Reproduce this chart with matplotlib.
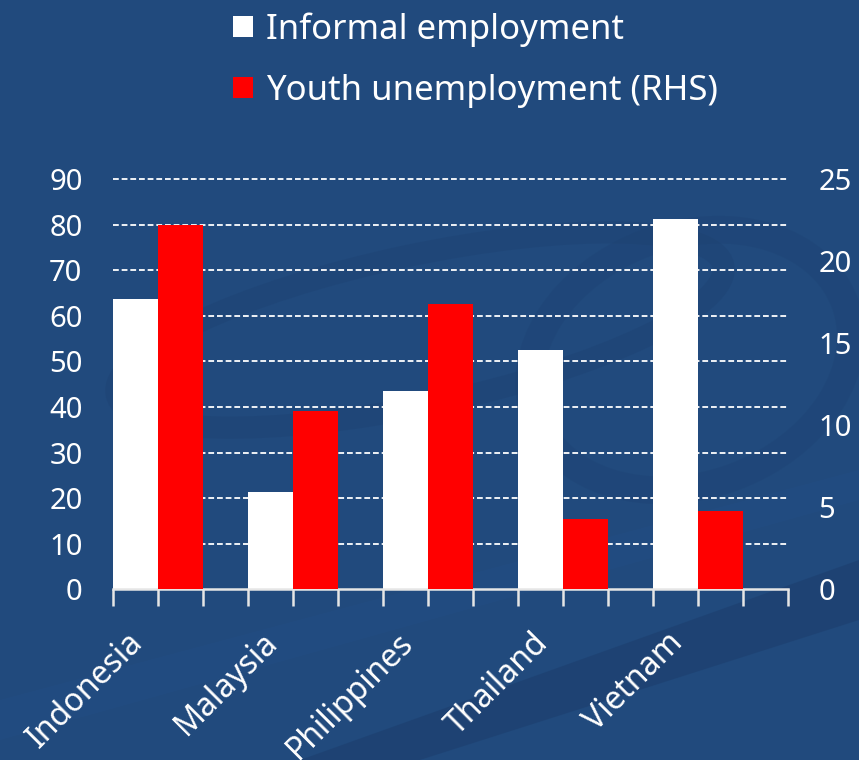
import numpy as np
import matplotlib
matplotlib.use("Agg")
import matplotlib.pyplot as plt
from matplotlib.patches import Polygon, Ellipse, Patch

countries = ["Indonesia", "Malaysia", "Philippines", "Thailand", "Vietnam"]
informal_employment = [63.7, 21.3, 43.4, 52.5, 81.3]
youth_unemployment = [22.2, 10.85, 17.4, 4.27, 4.76]
left_ticks = [0, 10, 20, 30, 40, 50, 60, 70, 80, 90]
right_ticks = [0, 5, 10, 15, 20, 25]

BG = "#214a7d"
SWIRL = "#1d4070"
FONT = "Noto Sans"
plt.rcParams["font.family"] = [FONT, "DejaVu Sans"]

fig = plt.figure(figsize=(8.59, 7.6), dpi=100)
fig.patch.set_facecolor(BG)

# decorative background swirls
bg = fig.add_axes([0, 0, 1, 1], zorder=-10)
bg.set_xlim(0, 859)
bg.set_ylim(760, 0)
bg.axis("off")
bg.add_patch(Polygon([[300, 760], [859, 560], [859, 620], [420, 760]],
                     closed=True, facecolor=SWIRL, edgecolor="none", alpha=0.7))
bg.add_patch(Polygon([[0, 700], [859, 470], [859, 500], [0, 740]],
                     closed=True, facecolor="#23508a", edgecolor="none", alpha=0.3))
bg.add_patch(Ellipse((420, 330), 620, 150, angle=-12, facecolor="none",
                     edgecolor=SWIRL, lw=16, alpha=0.35))
bg.add_patch(Ellipse((690, 360), 330, 250, angle=-20, facecolor="none",
                     edgecolor=SWIRL, lw=20, alpha=0.3))

ax = fig.add_axes([113 / 859, 1 - 589.3 / 760, 675 / 859, 410.3 / 760])
ax.set_facecolor("none")
ax2 = ax.twinx()

n = len(countries)
x = np.arange(n)
w = 1 / 3
ax.bar(x - w, informal_employment, width=w, color="white", zorder=3,
       label="Informal employment")
ax2.bar(x, youth_unemployment, width=w, color="#ff0000", zorder=3,
        label="Youth unemployment (RHS)")

ax.set_xlim(-0.5, n - 0.5)
ax.set_ylim(0, 90)
ax2.set_ylim(0, 25)
ax.set_yticks(left_ticks)
ax2.set_yticks(right_ticks)
ax.set_yticklabels([str(t) for t in left_ticks])
ax2.set_yticklabels([str(t) for t in right_ticks])

# dashed horizontal guides at the left-axis ticks
for t in left_ticks[1:]:
    ax.axhline(t, color="white", linestyle=(0, (3.2, 1.6)), lw=1.3,
               zorder=1, clip_on=False)

for a in (ax, ax2):
    for s in ("top", "left", "right"):
        a.spines[s].set_visible(False)
    a.tick_params(axis="y", length=0, colors="white", labelsize=21)
ax.spines["bottom"].set_visible(False)
ax2.spines["bottom"].set_color("#e6e6e6")
ax2.spines["bottom"].set_linewidth(1.8)
ax.tick_params(axis="y", pad=22)
ax2.tick_params(axis="y", pad=22)
for lbl in ax.get_yticklabels() + ax2.get_yticklabels():
    lbl.set_color("white")

ax.set_xticks(np.arange(-0.5, n - 0.5 + 1e-6, w))
ax.set_xticklabels([])
ax.tick_params(axis="x", direction="out", length=12, width=1.8, color="#e6e6e6")

for i, c in enumerate(countries):
    ax.text(i - 0.27, -12.0, c, rotation=45, rotation_mode="anchor",
            ha="right", va="baseline", color="white", fontsize=23,
            transform=ax.transData)

handles = [Patch(facecolor="white", edgecolor="none"),
           Patch(facecolor="#ff0000", edgecolor="none")]
fig.legend(handles, ["Informal employment", "Youth unemployment (RHS)"],
           loc="upper left", bbox_to_anchor=(209 / 859, 1 + 12 / 760),
           frameon=False, fontsize=25, labelcolor="white",
           handlelength=0.58, handleheight=0.58, handletextpad=0.35,
           labelspacing=0.78, borderpad=0.2)

fig.savefig("out.png", dpi=100, facecolor=BG)
